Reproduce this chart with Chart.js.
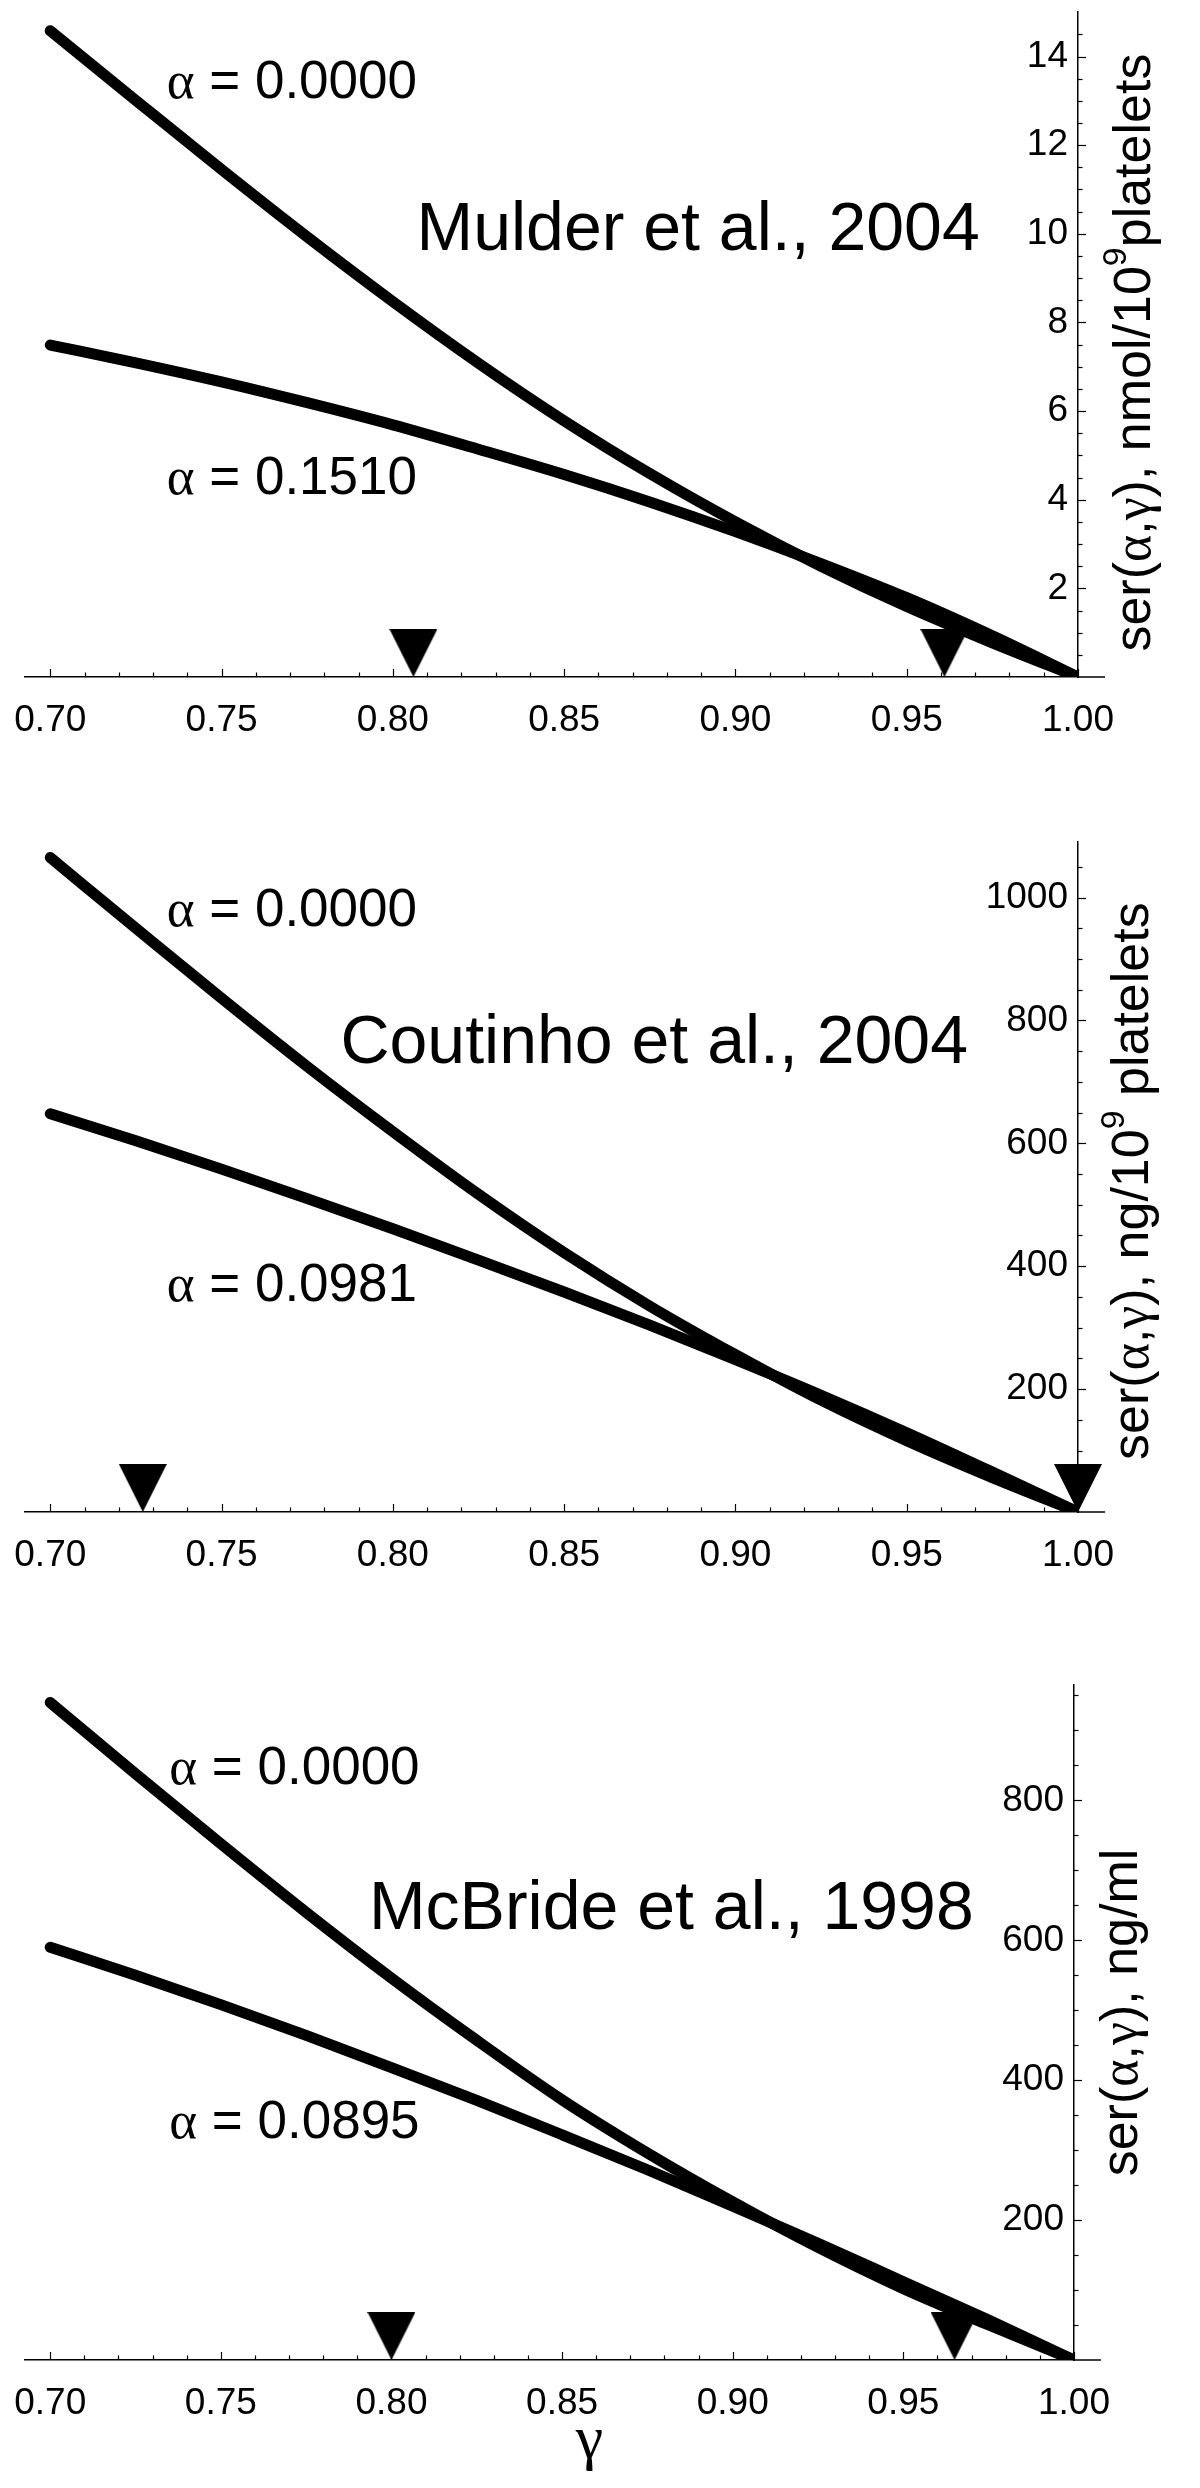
<!DOCTYPE html>
<html>
<head>
<meta charset="utf-8">
<script src="https://cdn.jsdelivr.net/npm/chart.js@4.4.1/dist/chart.umd.min.js"></script>
<style>
    html, body { margin: 0; padding: 0; background: #fff; }
    body { width: 1200px; height: 2488px; position: relative; overflow: hidden; }
    canvas { position: absolute; left: 0; }
</style>
</head>
<body>
<canvas id="panel-mulder" width="1200" height="830" style="top: 0px"></canvas>
<canvas id="panel-coutinho" width="1200" height="830" style="top: 830px"></canvas>
<canvas id="panel-mcbride" width="1200" height="828" style="top: 1660px"></canvas>
<script>
const gamma_values = [0.700, 0.725, 0.750, 0.775, 0.800, 0.825, 0.850, 0.875, 0.900, 0.925, 0.950, 0.975, 1.000]

const mulder_alpha_0000 = [14.58, 13.01, 11.45, 9.93, 8.47, 7.08, 5.78, 4.59, 3.50, 2.50, 1.59, 0.77, 0]
const mulder_alpha_1510 = [7.49, 7.09, 6.66, 6.19, 5.69, 5.14, 4.57, 3.95, 3.28, 2.56, 1.79, 0.93, 0]
const coutinho_alpha_0000 = [1065, 950, 836, 725, 619, 517, 422, 335, 256, 182, 116, 56, 0]
const coutinho_alpha_0981 = [648, 604, 558, 510, 461, 410, 358, 304, 248, 190, 129, 65, 0]
const mcbride_alpha_0000 = [940, 838, 738, 640, 546, 457, 372, 296, 226, 161, 102, 50, 0]
const mcbride_alpha_0895 = [590, 550, 508, 464, 418, 371, 322, 272, 220, 167, 112, 57, 0]

// gamma positions of the black triangles on the axis
const mulder_markers = [0.806, 0.961]
const coutinho_markers = [0.727, 1.000]
const mcbride_markers = [0.800, 0.965]

const x_tick_values = [0.70, 0.75, 0.80, 0.85, 0.90, 0.95, 1.00]
const x_tick_labels = ['0.70', '0.75', '0.80', '0.85', '0.90', '0.95', '1.00']
const mulder_y_ticks = [2, 4, 6, 8, 10, 12, 14]
const coutinho_y_ticks = [200, 400, 600, 800, 1000]
const mcbride_y_ticks = [200, 400, 600, 800]

const sans = '"Liberation Sans", Arial, sans-serif'
const serif = '"Liberation Serif", "Times New Roman", serif'

function series_points(values) {
    let points = []
    for (let i = 0; i < gamma_values.length; i ++) {
        points.push({x: gamma_values[i], y: values[i]})
    }
    return points
}

function marker_points(markers) {
    let points = []
    for (let i = 0; i < markers.length; i ++) {
        points.push({x: markers[i], y: 0})
    }
    return points
}

function make_marker_image() {
    // triangle sits in the top half so the point centre is its tip
    let c = document.createElement('canvas')
    c.width = 48
    c.height = 96
    let g = c.getContext('2d')
    g.fillStyle = '#000'
    g.beginPath()
    g.moveTo(0, 0)
    g.lineTo(48, 0)
    g.lineTo(24, 48)
    g.closePath()
    g.fill()
    return c
}

function title_parts(unit, size) {
    let parts = [
        ['ser(', `${size}px ${sans}`, 0],
        ['\u03b1', `${size}px ${serif}`, 0],
        [',', `${size}px ${sans}`, 0],
        ['\u03b3', `${size}px ${serif}`, 0]
    ]
    for (let i = 0; i < unit.length; i ++) {
        parts.push(unit[i])
    }
    return parts
}

function note_parts(text, size) {
    if (text.charAt(0) == '\u03b1') {
        return [
            ['\u03b1', `${size}px ${serif}`, 0],
            [text.slice(1), `${size}px ${sans}`, 0]
        ]
    }
    return [[text, `${size}px ${sans}`, 0]]
}

function parts_width(ctx, parts) {
    let w = 0
    for (let i = 0; i < parts.length; i ++) {
        ctx.font = parts[i][1]
        w += ctx.measureText(parts[i][0]).width
    }
    return w
}

function draw_parts(ctx, parts, x, y) {
    let cx = x
    for (let i = 0; i < parts.length; i ++) {
        ctx.font = parts[i][1]
        ctx.fillText(parts[i][0], cx, y - parts[i][2])
        cx += ctx.measureText(parts[i][0]).width
    }
}

function make_panel_plugin(panel) {
    return {
        id: 'panel_marks',
        afterDraw(chart) {
            let ctx = chart.ctx
            let area = chart.chartArea
            let xs = chart.scales.x
            let ys = chart.scales.y
            ctx.save()
            ctx.strokeStyle = '#000'
            ctx.lineWidth = 1.2

            // x ticks point up into the plot, every 0.01
            for (let i = 0; i <= 30; i ++) {
                let px = Math.round(xs.getPixelForValue((70 + i) / 100)) + 0.5
                let len = (i % 5 == 0) ? 8 : 4.5
                ctx.beginPath()
                ctx.moveTo(px, area.bottom)
                ctx.lineTo(px, area.bottom - len)
                ctx.stroke()
            }
            // y ticks point right, away from the plot
            for (let i = 1; i * panel.y_minor < ys.max; i ++) {
                let py = Math.round(ys.getPixelForValue(i * panel.y_minor)) + 0.5
                let len = (i % 4 == 0) ? 8 : 4.5
                ctx.beginPath()
                ctx.moveTo(area.right, py)
                ctx.lineTo(area.right + len, py)
                ctx.stroke()
            }
            // the axis line runs on a little past 1.00
            ctx.lineWidth = 1.5
            ctx.beginPath()
            ctx.moveTo(area.right, area.bottom)
            ctx.lineTo(area.right + 27, area.bottom)
            ctx.stroke()

            ctx.fillStyle = '#000'
            ctx.textAlign = 'left'
            ctx.textBaseline = 'alphabetic'
            for (let i = 0; i < panel.notes.length; i ++) {
                let note = panel.notes[i]
                draw_parts(ctx, note_parts(note.text, note.size),
                    xs.getPixelForValue(note.gamma), ys.getPixelForValue(note.value))
            }

            let w = parts_width(ctx, panel.y_title)
            ctx.save()
            ctx.translate(area.right + panel.title_offset, (area.top + area.bottom) / 2 + panel.title_shift)
            ctx.rotate(-Math.PI / 2)
            draw_parts(ctx, panel.y_title, -w / 2, 0)
            ctx.restore()

            if (panel.x_title) {
                ctx.font = `62px ${serif}`
                ctx.textAlign = 'center'
                ctx.fillText('\u03b3', xs.getPixelForValue(panel.x_title.gamma), area.bottom + panel.x_title.offset)
            }
            ctx.restore()
        }
    }
}

const marker_image = make_marker_image()

function build_panel(panel) {
    let datasets = []
    for (let i = 0; i < panel.series.length; i ++) {
        datasets.push({
            data: series_points(panel.series[i]),
            borderColor: '#000',
            borderWidth: 11,
            borderCapStyle: 'round',
            borderJoinStyle: 'round',
            pointRadius: 0,
            cubicInterpolationMode: 'monotone',
            fill: false
        })
    }
    datasets.push({
        type: 'scatter',
        data: marker_points(panel.markers),
        pointStyle: marker_image,
        pointRadius: 24,
        clip: false
    })

    new Chart(document.getElementById(panel.id), {
        type: 'line',
        data: {datasets: datasets},
        options: {
            responsive: false,
            animation: false,
            events: [],
            layout: {autoPadding: false, padding: panel.padding},
            plugins: {legend: {display: false}, tooltip: {enabled: false}},
            scales: {
                x: {
                    type: 'linear',
                    position: 'bottom',
                    min: 0.6925,
                    max: 1.0,
                    afterBuildTicks: (scale) => { scale.ticks = x_tick_values.map(v => ({value: v})) },
                    afterFit: (scale) => { scale.height = 100 },
                    grid: {display: false},
                    border: {display: true, color: '#000', width: 1.5},
                    ticks: {
                        autoSkip: false,
                        maxRotation: 0,
                        padding: 14,
                        color: '#000',
                        font: {family: sans, size: 37},
                        callback: (value, index) => x_tick_labels[index]
                    }
                },
                y: {
                    type: 'linear',
                    position: 'right',
                    min: 0,
                    max: panel.y_max,
                    afterBuildTicks: (scale) => { scale.ticks = panel.y_ticks.map(v => ({value: v})) },
                    afterFit: (scale) => { scale.width = 60 },
                    grid: {display: false},
                    border: {display: true, color: '#000', width: 1.5},
                    ticks: {
                        mirror: true,
                        padding: -10,
                        color: '#000',
                        font: {family: sans, size: 37},
                        callback: (value) => String(value)
                    }
                }
            }
        },
        plugins: [make_panel_plugin(panel)]
    })
}

const panels = [
    {
        id: 'panel-mulder',
        series: [mulder_alpha_0000, mulder_alpha_1510],
        markers: mulder_markers,
        y_max: 15,
        y_ticks: mulder_y_ticks,
        y_minor: 0.5,
        padding: {left: 11, right: 62, top: 3, bottom: 53},
        notes: [
            {text: '\u03b1 = 0.0000', gamma: 0.734, value: 13.06, size: 53},
            {text: '\u03b1 = 0.1510', gamma: 0.734, value: 4.12, size: 53},
            {text: 'Mulder et al., 2004', gamma: 0.8069, value: 9.64, size: 68}
        ],
        y_title: title_parts([
            ['), nmol/10', `52px ${sans}`, 0],
            ['9', `34px ${sans}`, 24],
            ['platelets', `52px ${sans}`, 0]
        ], 52),
        title_offset: 72,
        title_shift: 8
    },
    {
        id: 'panel-coutinho',
        series: [coutinho_alpha_0000, coutinho_alpha_0981],
        markers: coutinho_markers,
        y_max: 1090,
        y_ticks: coutinho_y_ticks,
        y_minor: 50,
        padding: {left: 11, right: 62, top: 7, bottom: 48},
        notes: [
            {text: '\u03b1 = 0.0000', gamma: 0.734, value: 953, size: 53},
            {text: '\u03b1 = 0.0981', gamma: 0.734, value: 344, size: 53},
            {text: 'Coutinho et al., 2004', gamma: 0.7847, value: 731, size: 68}
        ],
        y_title: title_parts([
            ['), ng/10', `52px ${sans}`, 0],
            ['9', `34px ${sans}`, 24],
            [' platelets', `52px ${sans}`, 0]
        ], 52),
        title_offset: 70,
        title_shift: 4
    },
    {
        id: 'panel-mcbride',
        series: [mcbride_alpha_0000, mcbride_alpha_0895],
        markers: mcbride_markers,
        y_max: 965,
        y_ticks: mcbride_y_ticks,
        y_minor: 50,
        padding: {left: 8, right: 66, top: 25, bottom: 28},
        notes: [
            {text: '\u03b1 = 0.0000', gamma: 0.7349, value: 823, size: 53},
            {text: '\u03b1 = 0.0895', gamma: 0.7349, value: 317, size: 53},
            {text: 'McBride et al., 1998', gamma: 0.7934, value: 616, size: 68}
        ],
        y_title: title_parts([
            ['), ng/ml', `52px ${sans}`, 0]
        ], 52),
        title_offset: 63,
        title_shift: -10,
        x_title: {gamma: 0.858, offset: 98}
    }
]

for (let i = 0; i < panels.length; i ++) {
    build_panel(panels[i])
}
</script>
</body>
</html>
